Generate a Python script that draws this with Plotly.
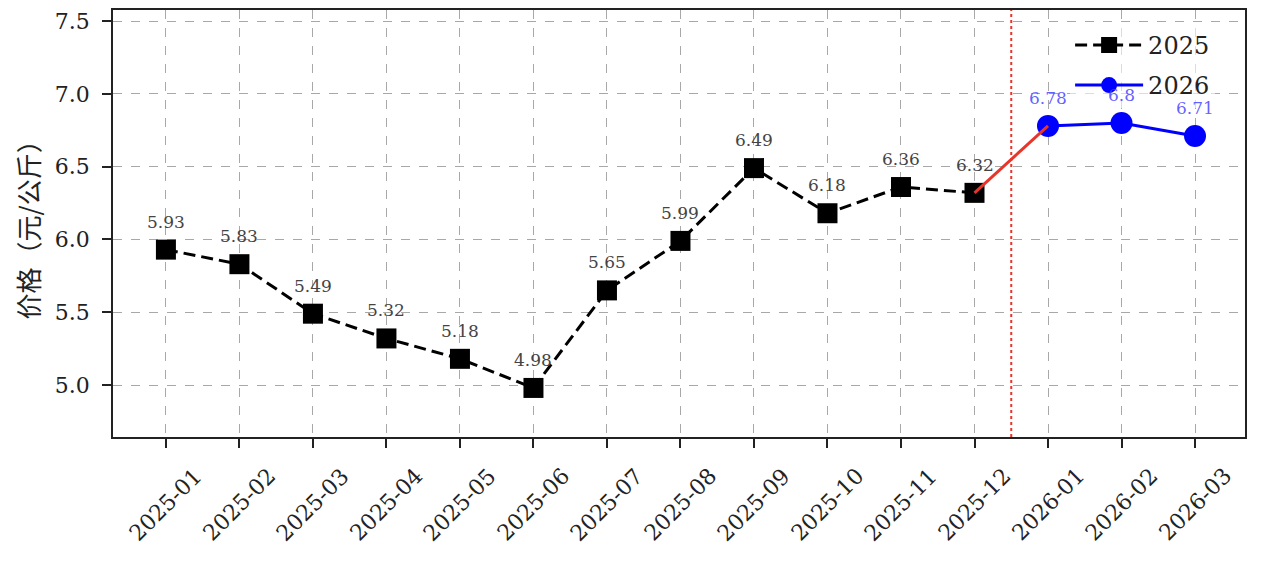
import plotly.graph_objects as go

months = ["2025-01", "2025-02", "2025-03", "2025-04", "2025-05", "2025-06",
          "2025-07", "2025-08", "2025-09", "2025-10", "2025-11", "2025-12",
          "2026-01", "2026-02", "2026-03"]
months_2025 = months[:12]
months_2026 = months[12:]
prices_2025 = [5.93, 5.83, 5.49, 5.32, 5.18, 4.98, 5.65, 5.99, 6.49, 6.18, 6.36, 6.32]
prices_2026 = [6.78, 6.8, 6.71]
labels_2025 = ["5.93", "5.83", "5.49", "5.32", "5.18", "4.98", "5.65", "5.99", "6.49", "6.18", "6.36", "6.32"]
labels_2026 = ["6.78", "6.8", "6.71"]
y_ticks = [5.0, 5.5, 6.0, 6.5, 7.0, 7.5]
y_title = "价格（元/公斤）"
divider_x = 11.5

NUM_FONT = "DejaVu Serif, Liberation Serif, Noto Sans CJK SC, serif"
TXT = "#222222"

fig = go.Figure()

fig.add_trace(go.Scatter(
    x=months_2025, y=prices_2025, name="2025", mode="lines+markers",
    legendgroup="a",
    line=dict(color="black", width=3, dash="12px,6px"),
    marker=dict(symbol="square", size=20, color="black"),
))
fig.add_trace(go.Scatter(
    x=months_2026, y=prices_2026, name="2026", mode="lines+markers",
    legendgroup="b",
    line=dict(color="#0000ff", width=3),
    marker=dict(symbol="circle", size=22, color="#0000ff"),
))
fig.add_trace(go.Scatter(
    x=[months_2025[-1], months_2026[0]], y=[prices_2025[-1], prices_2026[0]],
    mode="lines", line=dict(color="#e8352a", width=3), showlegend=False,
    hoverinfo="skip",
))

for m, v, t in zip(months_2025, prices_2025, labels_2025):
    fig.add_annotation(x=m, y=v, text=t, showarrow=False, yshift=28,
                       font=dict(family=NUM_FONT, size=17, color="#444444"))
for m, v, t in zip(months_2026, prices_2026, labels_2026):
    fig.add_annotation(x=m, y=v, text=t, showarrow=False, yshift=28,
                       font=dict(family=NUM_FONT, size=17, color="rgba(70,70,255,0.85)"))

# rotated, centered x tick labels (matplotlib style)
for m in months:
    fig.add_annotation(x=m, xref="x", y=0, yref="paper", text=m, showarrow=False,
                       textangle=-45, xanchor="center", yanchor="top", yshift=-24,
                       font=dict(family=NUM_FONT, size=22, color=TXT))

# y-axis title
fig.add_annotation(x=0, xref="paper", y=0.5, yref="paper", text=y_title,
                   showarrow=False, textangle=-90, xanchor="center", yanchor="middle",
                   xshift=-86,
                   font=dict(family="Noto Sans CJK SC, sans-serif", size=26, color=TXT))

fig.add_shape(type="line", xref="x", yref="paper", x0=divider_x, x1=divider_x,
              y0=0, y1=1, line=dict(color="#e8352a", width=2, dash="dot"))

fig.update_layout(
    width=1260, height=555,
    margin=dict(l=105, r=23, t=2, b=126, autoexpand=False),
    paper_bgcolor="white", plot_bgcolor="white",
    font=dict(family=NUM_FONT, color=TXT),
    legend=dict(x=0.8455, y=0.97, xanchor="left", yanchor="top",
                bgcolor="rgba(255,255,255,0.6)", borderwidth=0,
                font=dict(family=NUM_FONT, size=24, color=TXT),
                traceorder="grouped", tracegroupgap=6, itemwidth=68),
    xaxis=dict(
        type="category", categoryorder="array", categoryarray=months,
        range=[-0.72, 14.68], showticklabels=False, automargin=False,
        showgrid=True, gridcolor="#a8a8a8", griddash="dash", gridwidth=1,
        ticks="outside", ticklen=9, tickwidth=1.5, tickcolor=TXT,
        showline=True, linecolor=TXT, linewidth=1.5, mirror=True,
        zeroline=False,
    ),
    yaxis=dict(
        range=[4.643, 7.576], tickvals=y_ticks, tickformat=".1f",
        tickfont=dict(family=NUM_FONT, size=22, color=TXT),
        ticklabelstandoff=8, automargin=False,
        showgrid=True, gridcolor="#a8a8a8", griddash="dash", gridwidth=1,
        ticks="outside", ticklen=9, tickwidth=1.5, tickcolor=TXT,
        showline=True, linecolor=TXT, linewidth=1.5, mirror=True,
        zeroline=False,
    ),
)

fig.write_html("out.html")
